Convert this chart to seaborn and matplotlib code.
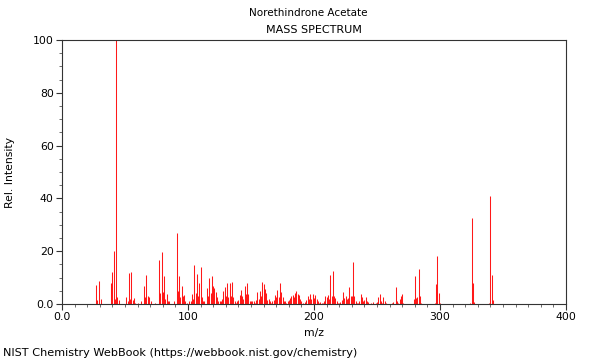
import matplotlib
matplotlib.use("Agg")
import matplotlib.pyplot as plt
from matplotlib.ticker import MultipleLocator, FixedLocator
import seaborn as sns
import pandas as pd

title_name = "Norethindrone Acetate"
title_kind = "MASS SPECTRUM"
x_label = "m/z"
y_label = "Rel. Intensity"
footer = "NIST Chemistry WebBook (https://webbook.nist.gov/chemistry)"
x_ticks = [0, 100, 200, 300, 400]
x_tick_labels = ["0.0", "100", "200", "300", "400"]
y_ticks = [0, 20, 40, 60, 80, 100]
y_tick_labels = ["0.0", "20", "40", "60", "80", "100"]

mz = [27, 28, 29, 31, 39, 40, 41, 42, 43, 44, 45, 51, 52, 53, 54, 55, 56, 57, 58, 60,
      63, 65, 66, 67, 68, 69, 71, 74, 77, 78, 79, 80, 81, 82, 83, 84, 85, 89, 91, 92,
      93, 94, 95, 96, 97, 98, 99, 101, 102, 103, 104, 105, 106, 107, 108, 109, 110, 111, 112, 113,
      115, 116, 117, 118, 119, 120, 121, 122, 123, 124, 125, 126, 127, 128, 129, 130, 131, 132, 133, 134,
      135, 136, 137, 138, 139, 140, 141, 142, 143, 144, 145, 146, 147, 148, 149, 150, 151, 152, 153, 154,
      155, 156, 157, 158, 159, 160, 161, 162, 163, 164, 165, 166, 167, 168, 169, 170, 171, 172, 173, 174,
      175, 176, 177, 178, 179, 180, 181, 182, 183, 184, 185, 186, 187, 188, 189, 190, 191, 193, 194, 195,
      196, 197, 198, 199, 200, 201, 202, 203, 204, 205, 206, 207, 208, 209, 210, 211, 212, 213, 214, 215,
      216, 217, 218, 219, 220, 221, 222, 223, 224, 225, 226, 227, 228, 229, 230, 231, 232, 233, 234, 235,
      236, 237, 238, 239, 240, 241, 242, 243, 245, 247, 249, 250, 251, 252, 253, 254, 255, 256, 257, 262,
      263, 265, 266, 267, 268, 269, 270, 271, 279, 280, 281, 282, 283, 284, 285, 296, 297, 298, 299, 300,
      324, 325, 326, 327, 339, 340, 341, 342]
intensity = [7.2, 1.5, 8.6, 2.0, 8.0, 12.0, 20.0, 2.0, 100.0, 2.5, 1.5, 2.5, 1.0, 11.7, 2.0, 12.3, 1.5, 2.2, 0.5, 0.5,
             1.0, 6.8, 2.5, 11.0, 3.0, 2.5, 1.0, 0.5, 16.5, 4.0, 19.7, 4.5, 10.6, 2.0, 3.8, 1.0, 1.0, 1.0, 26.8, 5.0,
             10.6, 2.5, 6.8, 3.2, 3.4, 1.0, 0.5, 1.0, 1.0, 3.8, 2.0, 14.8, 4.0, 11.5, 3.0, 8.0, 14.0, 2.5, 1.0, 1.0,
             5.9, 3.0, 9.7, 4.0, 10.7, 7.0, 6.2, 4.4, 2.5, 1.3, 1.2, 1.0, 2.0, 5.0, 6.6, 3.0, 7.8, 2.5, 8.0, 3.0,
             8.5, 2.5, 1.0, 0.5, 1.0, 1.5, 3.3, 5.2, 3.0, 2.0, 7.0, 3.8, 8.1, 3.8, 1.3, 1.0, 1.3, 1.0, 0.5, 1.5,
             4.4, 2.0, 5.0, 3.0, 8.2, 7.4, 5.8, 4.0, 1.5, 2.0, 1.3, 0.5, 1.0, 1.5, 3.4, 2.5, 5.3, 2.5, 8.1, 4.4,
             2.8, 1.3, 1.0, 0.5, 1.0, 1.5, 2.4, 3.0, 3.4, 2.5, 4.0, 4.8, 3.9, 3.5, 1.8, 1.0, 0.5, 0.8, 1.5, 3.2,
             2.0, 3.6, 2.0, 3.6, 2.2, 3.5, 1.8, 1.2, 0.5, 0.8, 0.5, 0.5, 1.0, 3.2, 2.5, 3.3, 2.0, 11.0, 3.0, 12.5,
             3.0, 2.4, 1.0, 0.5, 0.5, 0.8, 1.5, 4.4, 2.4, 3.0, 2.0, 2.4, 6.5, 3.2, 3.2, 15.8, 3.2, 1.3, 0.5, 0.5,
             1.0, 3.6, 2.8, 1.3, 1.5, 2.5, 1.3, 0.8, 0.5, 0.8, 0.5, 0.8, 2.5, 3.7, 1.3, 0.5, 2.5, 1.3, 0.5, 0.5,
             0.8, 6.5, 1.2, 0.5, 2.0, 3.0, 3.6, 0.5, 2.0, 10.6, 2.2, 2.5, 13.3, 3.0, 0.5, 0.5, 7.4, 18.2, 4.0, 0.5,
             0.5, 32.5, 7.8, 0.8, 0.5, 40.9, 10.9, 1.5]

df = pd.DataFrame({"mz": mz, "intensity": intensity})

sns.set_theme(style="ticks")
plt.rcParams["font.family"] = ["DejaVu Sans"]
plt.rcParams["font.size"] = 7.8
plt.rcParams["text.color"] = "black"
plt.rcParams["axes.labelcolor"] = "black"

fig = plt.figure(figsize=(6, 3.6), dpi=100)
ax = fig.add_axes([62 / 600, 1 - 304 / 360, 504 / 600, 264 / 360])

ax.vlines(df["mz"], 0, df["intensity"], colors="#ff0000", linewidth=0.75, alpha=0.9)

ax.set_xlim(0, 400)
ax.set_ylim(0, 100)
ax.xaxis.set_major_locator(FixedLocator(x_ticks))
ax.set_xticklabels(x_tick_labels)
ax.yaxis.set_major_locator(FixedLocator(y_ticks))
ax.set_yticklabels(y_tick_labels)
ax.xaxis.set_minor_locator(MultipleLocator(10))
ax.yaxis.set_minor_locator(MultipleLocator(5))
ax.tick_params(axis="both", which="major", length=4, width=0.8, color="#333333",
               labelsize=7.8, labelcolor="black", direction="out", pad=2)
ax.tick_params(axis="both", which="minor", length=2, width=0.6, color="#555555", direction="out")
ax.tick_params(top=False, right=False, which="both")
for s in ax.spines.values():
    s.set_visible(True)
    s.set_color("#333333")
    s.set_linewidth(0.8)

ax.set_xlabel(x_label, fontsize=7.8, labelpad=4)
ax.set_ylabel(y_label, fontsize=7.8)
ax.yaxis.set_label_coords(-(62 - 15) / 504, 0.5)

fig.text(308 / 600, 1 - 13 / 360, title_name, ha="center", va="center", fontsize=7.5)
fig.text(314 / 600, 1 - 30 / 360, title_kind, ha="center", va="center", fontsize=8)
fig.text(3 / 600, 1 - 353 / 360, footer, ha="left", va="center", fontsize=8.1)

fig.savefig("out.png", dpi=100)
